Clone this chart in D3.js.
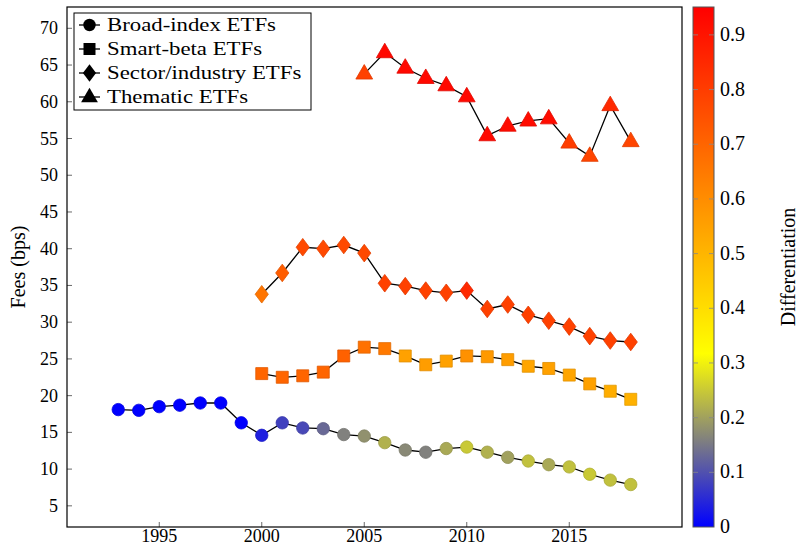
<!DOCTYPE html>
<html>
<head>
<meta charset="utf-8">
<script src="https://cdn.jsdelivr.net/npm/d3@7"></script>
<style>
  body { margin: 0; background: #fff; }
</style>
</head>
<body>
<div id="chart"></div>
<script>
// ---- data ----
const broadYears = d3.range(1993, 2019);
const broadFees = [18.1, 18.0, 18.5, 18.7, 19.0, 19.0, 16.3, 14.6, 16.3, 15.6, 15.5, 14.7, 14.5,
                   13.6, 12.6, 12.3, 12.8, 13.0, 12.3, 11.6, 11.1, 10.6, 10.3, 9.3, 8.5, 7.9];
const broadDiff = [0, 0, 0, 0, 0, 0, 0, 0.04, 0.08, 0.09, 0.13, 0.16, 0.18,
                   0.22, 0.17, 0.16, 0.21, 0.25, 0.22, 0.20, 0.24, 0.21, 0.24, 0.25, 0.24, 0.24];

const smartYears = d3.range(2000, 2019);
const smartFees = [23.0, 22.5, 22.7, 23.2, 25.4, 26.6, 26.4, 25.4, 24.2, 24.7, 25.4, 25.3, 24.9,
                   24.0, 23.7, 22.8, 21.6, 20.6, 19.5];
const smartDiff = [0.70, 0.70, 0.70, 0.70, 0.71, 0.67, 0.65, 0.55, 0.56, 0.55, 0.59, 0.57, 0.56,
                   0.54, 0.55, 0.54, 0.55, 0.52, 0.51];

const sectorYears = d3.range(2000, 2019);
const sectorFees = [33.8, 36.7, 40.2, 40.0, 40.5, 39.4, 35.3, 34.9, 34.3, 34.0, 34.3, 31.8, 32.4,
                    31.0, 30.2, 29.4, 28.1, 27.5, 27.3];
const sectorDiff = [0.66, 0.72, 0.77, 0.77, 0.77, 0.77, 0.79, 0.79, 0.79, 0.79, 0.85, 0.79, 0.79,
                    0.79, 0.79, 0.79, 0.79, 0.79, 0.79];

const themYears = d3.range(2005, 2019);
const themFees = [63.8, 66.7, 64.6, 63.2, 62.2, 60.7, 55.4, 56.7, 57.4, 57.7, 54.4, 52.6, 59.5, 54.6];
const themDiff = [0.79, 0.93, 0.93, 0.93, 0.93, 0.93, 0.93, 0.92, 0.92, 0.92, 0.80, 0.78, 0.85, 0.78];

const seriesNames = ["Broad-index ETFs", "Smart-beta ETFs", "Sector/industry ETFs", "Thematic ETFs"];
const yTicks = d3.range(5, 71, 5);
const xTicks = [1995, 2000, 2005, 2010, 2015];
const cbTicks = [0, 0.1, 0.2, 0.3, 0.4, 0.5, 0.6, 0.7, 0.8, 0.9];

// ---- layout ----
const W = 800, H = 545;
const plot = {left: 67, right: 682, top: 7, bottom: 527};
const cbar = {left: 693, right: 714};
const FONT = "'Liberation Serif', 'DejaVu Serif', serif";

const svg = d3.select("#chart").append("svg")
    .attr("width", W).attr("height", H)
    .attr("font-family", FONT);

const x = d3.scaleLinear().domain([1990.5, 2020.5]).range([plot.left, plot.right]);
const y = d3.scaleLinear().domain([2.12, 72.9]).range([plot.bottom, plot.top]);

// colormap: blue -> yellow (1/3) -> red
const cmax = 0.951;
const cmap = d3.scaleLinear()
    .domain([0, cmax / 3, cmax])
    .range(["#0000ff", "#ffff00", "#ff0000"])
    .clamp(true);
const cy = d3.scaleLinear().domain([0, cmax]).range([plot.bottom, plot.top]);

// ---- marker shapes ----
const shapes = {
  circle: s => d3.symbol(d3.symbolCircle, Math.PI * 6.2 * 6.2)(),
  square: s => "M-6,-6H6V6H-6Z",
  diamond: s => "M0,-8.8L6.6,0L0,8.8L-6.6,0Z",
  triangle: s => "M0,-9.3L8.4,5.2L-8.4,5.2Z"
};

const series = [
  {name: seriesNames[0], years: broadYears, fees: broadFees, diff: broadDiff, shape: "circle"},
  {name: seriesNames[1], years: smartYears, fees: smartFees, diff: smartDiff, shape: "square"},
  {name: seriesNames[2], years: sectorYears, fees: sectorFees, diff: sectorDiff, shape: "diamond"},
  {name: seriesNames[3], years: themYears, fees: themFees, diff: themDiff, shape: "triangle"}
];

const g = svg.append("g");
const line = d3.line().x(d => x(d.x)).y(d => y(d.y));

series.forEach(s => {
  const pts = s.years.map((yr, i) => ({x: yr, y: s.fees[i], c: s.diff[i]}));
  g.append("path")
      .datum(pts)
      .attr("fill", "none")
      .attr("stroke", "#000")
      .attr("stroke-width", 1.3)
      .attr("d", line);
  g.append("g").selectAll("path")
      .data(pts)
      .join("path")
      .attr("transform", d => `translate(${x(d.x)},${y(d.y)})`)
      .attr("d", shapes[s.shape])
      .attr("fill", d => cmap(d.c))
      .attr("stroke", d => d3.color(cmap(d.c)).darker(0.35))
      .attr("stroke-width", 0.8);
});

// ticks (inward, left and bottom only)
const tickLen = 5;
svg.append("g").selectAll("line")
    .data(yTicks).join("line")
    .attr("x1", plot.left).attr("x2", plot.left + tickLen)
    .attr("y1", d => y(d)).attr("y2", d => y(d))
    .attr("stroke", "#444").attr("stroke-width", 0.8);
svg.append("g").selectAll("text")
    .data(yTicks).join("text")
    .attr("x", plot.left - 9).attr("y", d => y(d) + 6)
    .attr("text-anchor", "end")
    .attr("font-size", 18)
    .text(d => d);

svg.append("g").selectAll("line")
    .data(xTicks).join("line")
    .attr("x1", d => x(d)).attr("x2", d => x(d))
    .attr("y1", plot.bottom).attr("y2", plot.bottom - tickLen)
    .attr("stroke", "#444").attr("stroke-width", 0.8);
svg.append("g").selectAll("text")
    .data(xTicks).join("text")
    .attr("x", d => x(d)).attr("y", plot.bottom + 15)
    .attr("text-anchor", "middle")
    .attr("font-size", 18)
    .text(d => d);

svg.append("rect")
    .attr("x", plot.left).attr("y", plot.top)
    .attr("width", plot.right - plot.left).attr("height", plot.bottom - plot.top)
    .attr("fill", "none").attr("stroke", "#000").attr("stroke-width", 1.2);

svg.append("text")
    .attr("transform", `translate(25,${(plot.top + plot.bottom) / 2}) rotate(-90)`)
    .attr("text-anchor", "middle")
    .attr("font-size", 20)
    .text("Fees (bps)");

// ---- legend ----
const leg = svg.append("g").attr("transform", "translate(74,13)");
leg.append("rect")
    .attr("width", 237).attr("height", 97)
    .attr("fill", "#fff").attr("stroke", "#000").attr("stroke-width", 1);
series.forEach((s, i) => {
  const ly = 12 + i * 24;
  leg.append("line")
      .attr("x1", 5).attr("x2", 26).attr("y1", ly).attr("y2", ly)
      .attr("stroke", "#000").attr("stroke-width", 1.3);
  leg.append("path")
      .attr("transform", `translate(15.5,${ly})`)
      .attr("d", shapes[s.shape])
      .attr("fill", "#000");
  leg.append("text")
      .attr("transform", `translate(33,${ly + 6}) scale(1.2,1)`)
      .attr("font-size", 19)
      .text(s.name);
});

// ---- colorbar ----
const defs = svg.append("defs");
const grad = defs.append("linearGradient")
    .attr("id", "cbgrad")
    .attr("x1", 0).attr("y1", 1).attr("x2", 0).attr("y2", 0);
grad.selectAll("stop")
    .data(cmap.domain())
    .join("stop")
    .attr("offset", d => d / cmax)
    .attr("stop-color", d => cmap(d));

svg.append("rect")
    .attr("x", cbar.left).attr("y", plot.top)
    .attr("width", cbar.right - cbar.left).attr("height", plot.bottom - plot.top)
    .attr("fill", "url(#cbgrad)")
    .attr("stroke", "#555").attr("stroke-width", 1);

const cbt = svg.append("g");
cbt.selectAll("line.l")
    .data(cbTicks.filter(d => d > 0)).join("line")
    .attr("class", "l")
    .attr("x1", cbar.left).attr("x2", cbar.left + 5)
    .attr("y1", d => cy(d)).attr("y2", d => cy(d))
    .attr("stroke", "#888").attr("stroke-width", 0.8);
cbt.selectAll("line.r")
    .data(cbTicks.filter(d => d > 0)).join("line")
    .attr("class", "r")
    .attr("x1", cbar.right - 5).attr("x2", cbar.right)
    .attr("y1", d => cy(d)).attr("y2", d => cy(d))
    .attr("stroke", "#888").attr("stroke-width", 0.8);
cbt.selectAll("text")
    .data(cbTicks).join("text")
    .attr("x", cbar.right + 6).attr("y", d => cy(d) + 6)
    .attr("font-size", 20)
    .text(d => d);

svg.append("text")
    .attr("transform", `translate(795,${(plot.top + plot.bottom) / 2}) rotate(-90)`)
    .attr("text-anchor", "middle")
    .attr("font-size", 20)
    .text("Differentiation");
</script>
</body>
</html>
